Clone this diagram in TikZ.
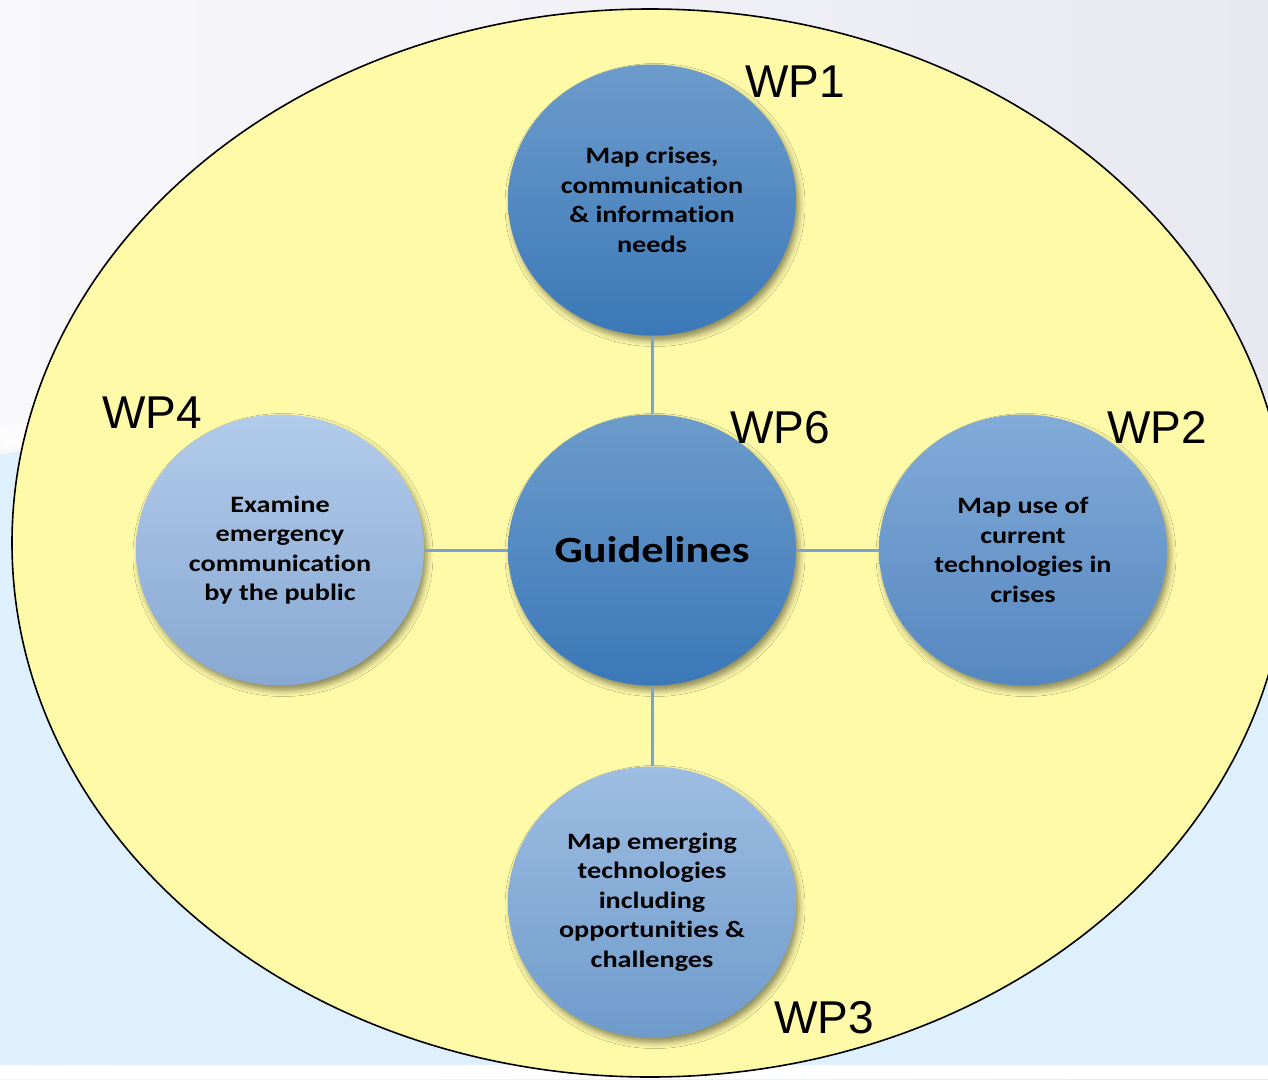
\documentclass[tikz,border=0pt]{standalone}
\usepackage{fontspec}
\setmainfont{Liberation Sans}
\newfontfamily\circlefont{Carlito}[FakeStretch=1.2, Ligatures=NoCommon]
\usetikzlibrary{shapes.geometric,shadows.blur}

\definecolor{bgleft}{HTML}{F8F8FB}
\definecolor{bgright}{HTML}{E8E8F1}
\definecolor{bluebg}{HTML}{DEEFFE}
\definecolor{yellowbg}{HTML}{FFFAA8}
\definecolor{linkblue}{HTML}{78A4D4}
\definecolor{darkA}{HTML}{6C9BCB}
\definecolor{darkB}{HTML}{3B78B8}
\definecolor{midA}{HTML}{82ABD8}
\definecolor{midB}{HTML}{5587C0}
\definecolor{softA}{HTML}{9EBDE2}
\definecolor{softB}{HTML}{6E9BCB}
\definecolor{paleA}{HTML}{B2CBEA}
\definecolor{paleB}{HTML}{87A8D2}

\tikzset{
  wpcircle/.style={ellipse, minimum width=288pt, minimum height=271pt,
    inner sep=0pt, align=center, text=black,
    font=\circlefont\bfseries\fontsize{23.5}{29.5}\selectfont,
    blur shadow={shadow xshift=3pt, shadow yshift=-5pt,
      shadow blur radius=6pt, shadow opacity=45}},
  wplabel/.style={anchor=base west, inner sep=0pt,
    font=\fontsize{46}{46}\selectfont},
  link/.style={draw=linkblue, line width=3pt},
}

\begin{document}
\begin{tikzpicture}[x=1pt, y=-1pt]
  \useasboundingbox (0,0) rectangle (1268,1079);
  \clip (0,0) rectangle (1268,1079);

  % slide background
  \shade[left color=bgleft, right color=bgright] (0,0) rectangle (1268,1079);
  \draw[white, line width=22pt, opacity=0.6]
    (0,438) .. controls (350,362) and (900,452) .. (1268,542);
  \fill[bluebg] (0,455) .. controls (350,380) and (900,470) .. (1268,560)
    -- (1268,1065) -- (0,1065) -- cycle;
  \fill[white] (0,1065) rectangle (1268,1079);

  % outer frame
  \draw[fill=yellowbg, line width=1.6pt]
    (650,543) ellipse [x radius=638pt, y radius=534pt];

  % work packages
  \node[wpcircle, top color=darkA, bottom color=darkB] (crises) at (652,200)
    {Map crises,\\communication\\\& information\\needs};
  \node[wpcircle, top color=darkA, bottom color=darkB,
    font=\circlefont\bfseries\fontsize{37}{44}\selectfont] (guide) at (652,550)
    {Guidelines};
  \node[wpcircle, top color=midA, bottom color=midB] (current) at (1023,550)
    {Map use of\\current\\technologies in\\crises};
  \node[wpcircle, top color=paleA, bottom color=paleB] (public) at (280,550)
    {Examine\\emergency\\communication\\by the public};
  \node[wpcircle, top color=softA, bottom color=softB] (emerging) at (652,902)
    {Map emerging\\technologies\\including\\opportunities \&\\challenges};

  % connectors to the guidelines
  \draw[link] (crises.south) -- (guide.north);
  \draw[link] (guide.south) -- (emerging.north);
  \draw[link] (public.east) -- (guide.west);
  \draw[link] (guide.east) -- (current.west);

  % package labels
  \node[wplabel] (wpone) at (745,97) {WP1};
  \node[wplabel] (wptwo) at (1107,443) {WP2};
  \node[wplabel] (wpthree) at (774,1033) {WP3};
  \node[wplabel] (wpfour) at (102,428) {WP4};
  \node[wplabel] (wpsix) at (730,443) {WP6};
\end{tikzpicture}
\end{document}
